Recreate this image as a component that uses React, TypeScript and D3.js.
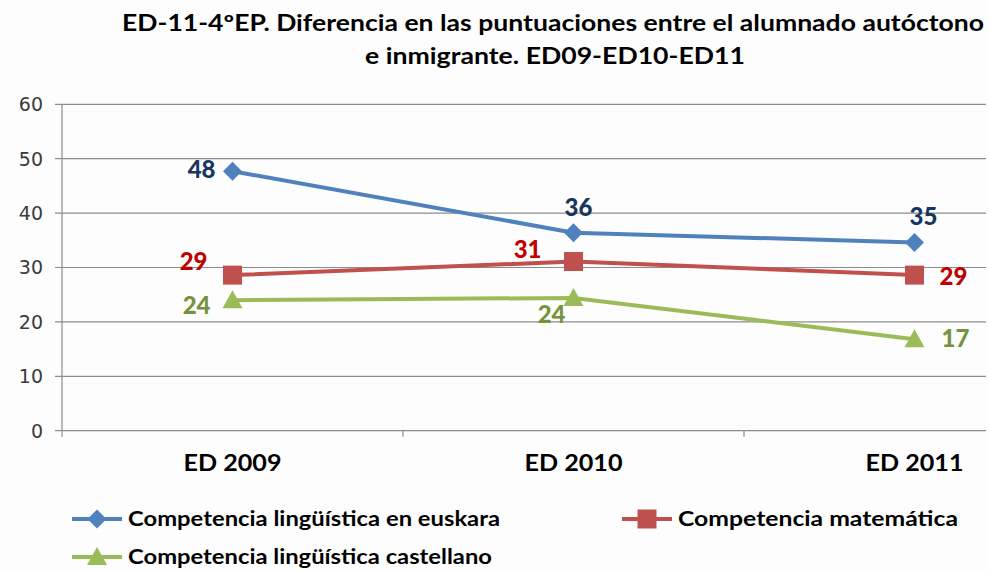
import React from "react";
import * as d3 from "d3";

// values
const categories = ["ED 2009", "ED 2010", "ED 2011"];
const euskara = [47.7, 36.4, 34.6];
const matematica = [28.6, 31.1, 28.6];
const castellano = [24.0, 24.4, 16.8];
const yTicks = [0, 10, 20, 30, 40, 50, 60];
const seriesNames = [
  "Competencia lingüística en euskara",
  "Competencia matemática",
  "Competencia lingüística castellano",
];
const titleLines = [
  "ED-11-4ºEP. Diferencia en las puntuaciones entre el alumnado autóctono",
  "e inmigrante. ED09-ED10-ED11",
];

const W = 989;
const H = 570;
const LABEL_FONT = "Lato, 'Open Sans', sans-serif";

// line colour, label colour, marker, label placement per point
const series = [
  {
    name: seriesNames[0], values: euskara, color: "#4F81BD", label: "#17365D", marker: "diamond",
    place: [
      { anchor: "end", dx: -17, dy: 7 },
      { anchor: "middle", dx: 5, dy: -17 },
      { anchor: "middle", dx: 9, dy: -17 },
    ],
  },
  {
    name: seriesNames[1], values: matematica, color: "#C0504D", label: "#C00000", marker: "square",
    place: [
      { anchor: "end", dx: -25, dy: -5 },
      { anchor: "end", dx: -32, dy: -4 },
      { anchor: "start", dx: 25, dy: 10 },
    ],
  },
  {
    name: seriesNames[2], values: castellano, color: "#9BBB59", label: "#76923C", marker: "triangle",
    place: [
      { anchor: "end", dx: -22, dy: 14 },
      { anchor: "end", dx: -8, dy: 25 },
      { anchor: "start", dx: 27, dy: 8 },
    ],
  },
];

function Marker({ type, x, y, color }: { type: string; x: number; y: number; color: string }) {
  if (type === "diamond") {
    const s = 9.5;
    return <path d={`M${x},${y - s}L${x + s},${y}L${x},${y + s}L${x - s},${y}Z`} fill={color} />;
  }
  if (type === "square") {
    const s = 9.5;
    return <rect x={x - s} y={y - s} width={s * 2} height={s * 2} fill={color} />;
  }
  const s = 10;
  return <path d={`M${x},${y - s}L${x + s},${y + s * 0.8}L${x - s},${y + s * 0.8}Z`} fill={color} />;
}

export default function App() {
  const plotLeft = 62;
  const gridLeft = 55;
  const gridRight = 986;

  const x = d3.scaleBand<string>().domain(categories).range([plotLeft, plotLeft + 3 * 341]);
  const cx = (c: string) => (x(c) as number) + x.bandwidth() / 2;
  const y = d3.scaleLinear().domain([0, 60]).range([430.7, 104.3]);

  const line = d3
    .line<number>()
    .x((_, i) => cx(categories[i]))
    .y((d) => y(d));

  const legend = [
    { s: series[0], lx: 72, ly: 519, tl: 372 },
    { s: series[1], lx: 622, ly: 519, tl: 280 },
    { s: series[2], lx: 72, ly: 557, tl: 364 },
  ];

  return (
    <svg width={W} height={H} style={{ position: "absolute", left: 0, top: 0, background: "#fdfdfd" }}>
      {/* title */}
      <g fontFamily={LABEL_FONT} fontWeight="bold" fontSize={22} fill="#000">
        <text x={553} y={31} textAnchor="middle" textLength={862} lengthAdjust="spacingAndGlyphs">
          {titleLines[0]}
        </text>
        <text x={555} y={64} textAnchor="middle" textLength={380} lengthAdjust="spacingAndGlyphs">
          {titleLines[1]}
        </text>
      </g>

      {/* grid + y axis */}
      <g stroke="#8c8c8c" strokeWidth={1.2}>
        {yTicks.map((t) => (
          <line key={t} x1={gridLeft} x2={gridRight} y1={y(t)} y2={y(t)} />
        ))}
        <line x1={plotLeft} x2={plotLeft} y1={y(60)} y2={y(0) + 6} />
        {categories.slice(1).map((c) => (
          <line key={c} x1={x(c)} x2={x(c)} y1={y(0)} y2={y(0) + 6} />
        ))}
      </g>
      <g fontFamily="'DejaVu Sans', sans-serif" fontSize={19} fill="#3a3a3a" textAnchor="end">
        {yTicks.map((t) => (
          <text key={t} x={43} y={y(t)} dy="0.36em">
            {t}
          </text>
        ))}
      </g>

      {/* x labels */}
      <g fontFamily={LABEL_FONT} fontWeight="bold" fontSize={23} fill="#000" textAnchor="middle">
        {categories.map((c) => (
          <text key={c} x={cx(c)} y={471} textLength={98} lengthAdjust="spacingAndGlyphs">
            {c}
          </text>
        ))}
      </g>

      {/* series */}
      {series.map((s) => (
        <g key={s.name}>
          <path d={line(s.values) as string} fill="none" stroke={s.color} strokeWidth={4} strokeLinejoin="round" />
          {s.values.map((v, i) => (
            <Marker key={i} type={s.marker} x={cx(categories[i])} y={y(v)} color={s.color} />
          ))}
          {s.values.map((v, i) => (
            <text
              key={"l" + i}
              x={cx(categories[i]) + s.place[i].dx}
              y={y(v) + s.place[i].dy}
              textAnchor={s.place[i].anchor}
              fontFamily={LABEL_FONT}
              fontWeight={900}
              fontSize={24}
              fill={s.label}
            >
              {Math.round(v)}
            </text>
          ))}
        </g>
      ))}

      {/* legend */}
      {legend.map(({ s, lx, ly, tl }) => (
        <g key={s.name}>
          <line x1={lx} x2={lx + 50} y1={ly} y2={ly} stroke={s.color} strokeWidth={4} />
          <Marker type={s.marker} x={lx + 25} y={ly} color={s.color} />
          <text
            x={lx + 56}
            y={ly + 7}
            fontFamily={LABEL_FONT}
            fontWeight="bold"
            fontSize={20}
            fill="#000"
            textLength={tl}
            lengthAdjust="spacingAndGlyphs"
          >
            {s.name}
          </text>
        </g>
      ))}
    </svg>
  );
}
